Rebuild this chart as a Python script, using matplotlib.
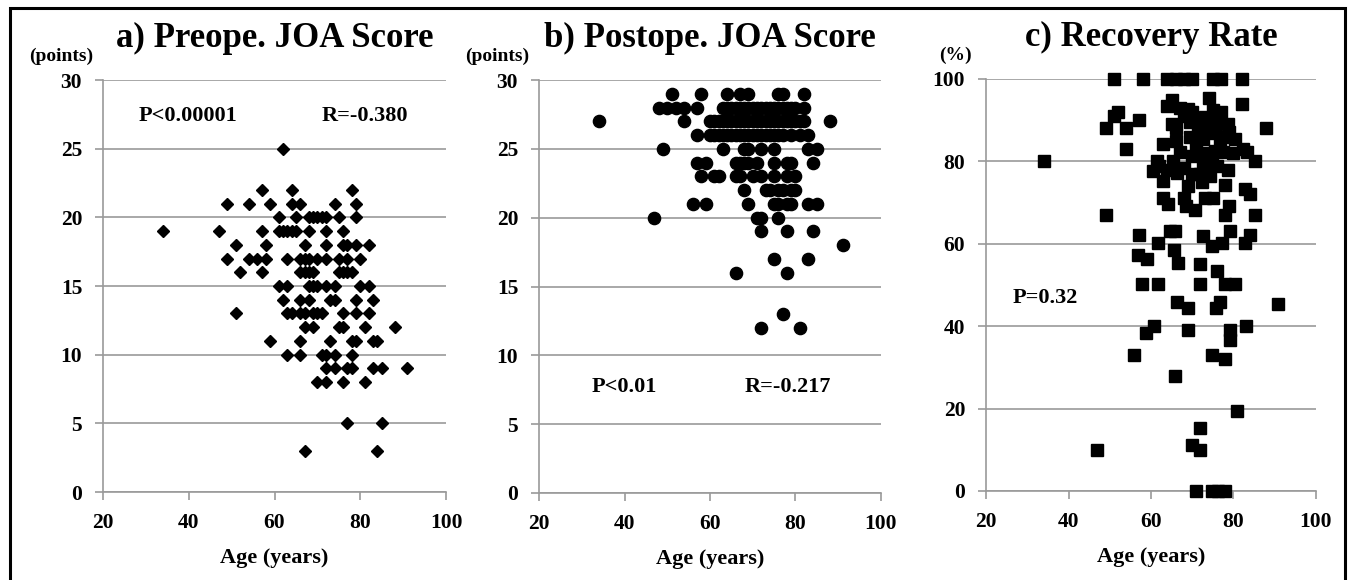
import matplotlib
matplotlib.use("Agg")
import matplotlib.pyplot as plt
from matplotlib.patches import Rectangle

plt.rcParams["font.family"] = ["Liberation Serif", "DejaVu Serif"]
plt.rcParams["font.weight"] = "bold"

# -------------------------------
# DATA
# -------------------------------
# a) preoperative JOA score vs age
a_age = [34, 62,
         57, 64, 78,
         49, 54, 59, 64, 66, 74, 79,
         61, 65, 68, 69, 70, 71, 72, 75, 79,
         47, 57, 61, 62, 63, 64, 65, 68, 72, 76,
         51, 58, 67, 72, 76, 77, 79, 82,
         49, 54, 56, 58, 63, 66, 67, 68, 70, 72, 75, 77, 80,
         52, 57, 66, 67, 68, 69, 75, 76, 77, 78,
         61, 63, 68, 69, 70, 72, 74, 80, 82,
         62, 66, 68, 73, 74, 79, 83,
         51, 63, 64, 66, 67, 69, 70, 71, 76, 79, 82,
         67, 69, 75, 76, 81, 88,
         59, 66, 73, 78, 79, 83, 84,
         63, 66, 71, 72, 74, 78,
         72, 74, 77, 78, 83, 85, 91,
         70, 72, 76, 81,
         77, 85,
         67, 84]
a_score = [19, 25,
           22, 22, 22,
           21, 21, 21, 21, 21, 21, 21,
           20, 20, 20, 20, 20, 20, 20, 20, 20,
           19, 19, 19, 19, 19, 19, 19, 19, 19, 19,
           18, 18, 18, 18, 18, 18, 18, 18,
           17, 17, 17, 17, 17, 17, 17, 17, 17, 17, 17, 17, 17,
           16, 16, 16, 16, 16, 16, 16, 16, 16, 16,
           15, 15, 15, 15, 15, 15, 15, 15, 15,
           14, 14, 14, 14, 14, 14, 14,
           13, 13, 13, 13, 13, 13, 13, 13, 13, 13, 13,
           12, 12, 12, 12, 12, 12,
           11, 11, 11, 11, 11, 11, 11,
           10, 10, 10, 10, 10, 10,
           9, 9, 9, 9, 9, 9, 9,
           8, 8, 8, 8,
           5, 5,
           3, 3]

# b) postoperative JOA score vs age
b_age = [34,
         51, 58, 64, 67, 69, 76, 77, 82,
         48, 50, 52, 54, 57, 63, 64, 65, 66, 67, 68, 69, 70, 71, 72, 73, 74,
         75, 76, 77, 78, 79, 80, 82,
         54, 60, 61, 62, 63, 64, 65, 66, 67, 68, 69, 70, 71, 72, 73, 74, 75,
         76, 77, 78, 79, 80, 81, 82, 88,
         57, 60, 61, 62, 63, 64, 65, 66, 67, 68, 69, 70, 71, 72, 73, 74, 75,
         76, 77, 79, 81, 83,
         49, 63, 68, 69, 72, 75, 83, 85,
         57, 59, 66, 67, 68, 69, 71, 75, 78, 79, 84,
         58, 61, 62, 66, 67, 70, 72, 75, 78, 80,
         68, 73, 74, 76, 77, 79, 80,
         56, 59, 69, 75, 76, 78, 79, 83, 85,
         47, 71, 72, 76,
         72, 78, 84,
         91,
         75, 83,
         66, 78,
         77,
         72, 81]
b_score = [27,
           29, 29, 29, 29, 29, 29, 29, 29,
           28, 28, 28, 28, 28, 28, 28, 28, 28, 28, 28, 28, 28, 28, 28, 28, 28,
           28, 28, 28, 28, 28, 28, 28,
           27, 27, 27, 27, 27, 27, 27, 27, 27, 27, 27, 27, 27, 27, 27, 27, 27,
           27, 27, 27, 27, 27, 27, 27, 27,
           26, 26, 26, 26, 26, 26, 26, 26, 26, 26, 26, 26, 26, 26, 26, 26, 26,
           26, 26, 26, 26, 26,
           25, 25, 25, 25, 25, 25, 25, 25,
           24, 24, 24, 24, 24, 24, 24, 24, 24, 24, 24,
           23, 23, 23, 23, 23, 23, 23, 23, 23, 23,
           22, 22, 22, 22, 22, 22, 22,
           21, 21, 21, 21, 21, 21, 21, 21, 21,
           20, 20, 20, 20,
           19, 19, 19,
           18,
           17, 17,
           16, 16,
           13,
           12, 12]

# c) recovery rate vs age
c_age = [51, 58, 64, 66, 68, 70, 75, 77, 82,
         65, 64, 69, 70, 74, 75, 77, 82,
         52, 51, 57, 49, 54, 88, 54, 34,
         65, 66, 69.5, 71.5, 73, 74.3, 75.5, 78.7, 79, 80.4, 69.5, 72.7,
         76.7, 63, 82.4, 83.2, 67, 69.9, 75.5, 77.5, 65.4, 61.4, 85.2, 72.7,
         74.7, 68, 60.6, 78.7, 66.2, 71.9, 74.3, 63, 72.3, 77.9, 82.8, 84,
         63, 68, 73, 75, 64.2, 68.6, 70.7, 79, 77.9, 85.2, 49.1,
         67, 68, 71, 72, 76, 78, 71, 73, 66, 80, 70, 76, 64, 69, 74, 62,
         57.2, 64.6, 65.8, 72.7, 79.2, 84, 61.8, 74.7, 77.1, 82.8, 56.9, 59,
         65.6, 66.6, 71.9, 75.9, 57.7, 61.8, 71.9, 77.9, 80.4, 66.4, 68.9,
         76.7, 75.8, 90.9, 60.8, 58.8, 68.9, 83, 79.2, 79.2, 56, 74.7, 77.9,
         65.7,
         80.8, 72, 46.8, 69.9, 72, 70.9, 74.7, 76.3, 77.9]
c_rate = [100, 100, 100, 100, 100, 100, 100, 100, 100,
          95, 93.5, 92.8, 92, 95.3, 92.4, 92, 94,
          92, 91, 90, 88, 88, 88, 83, 80,
          89, 88, 89.6, 88.3, 90.8, 89.1, 87.5, 89.1, 87.1, 85.5, 85.9, 85.5,
          85.1, 84.2, 83, 82.2, 82.2, 81.4, 82.6, 82.2, 80.2, 80.2, 80, 79.8,
          79.3, 78.5, 77.7, 77.9, 77.3, 76.9, 76.5, 75.3, 74.9, 74.3, 73.2, 72,
          71.2, 71.2, 71.2, 71.2, 69.7, 69.1, 68.3, 69.1, 67.1, 67.1, 67.1,
          93, 91, 90, 87, 90, 86, 83, 82, 85, 82, 77, 79, 78, 74, 87, 79,
          62.2, 63, 63, 61.8, 63, 62.2, 60.3, 59.5, 60.3, 60.3, 57.3, 56.3,
          58.4, 55.3, 55.1, 53.5, 50.2, 50.2, 50.2, 50.2, 50.2, 45.9, 44.3,
          45.9, 44.3, 45.4, 40, 38.4, 39, 40, 39, 36.6, 32.9, 32.9, 32.1,
          28,
          19.3, 15.3, 10, 11.1, 10, 0, 0, 0, 0]

# -------------------------------
# DRAW
# -------------------------------
GRID = "#9a9a9a"

fig = plt.figure(figsize=(13.51, 5.8), dpi=100)

# outer frame of the figure
fig.patches.append(Rectangle((10 / 1351, -0.05), 1335 / 1351, 1.05 - 8 / 580,
                             transform=fig.transFigure, fill=False,
                             edgecolor="black", linewidth=2.2))

panels = [
    # left px, right px, top px, bottom px
    dict(box=(103, 446, 80, 492), x=a_age, y=a_score, marker="D", ms=6.6,
         title="a) Preope. JOA Score", unit="(points)", unit_dx=-42,
         ylim=(0, 30), yticks=range(0, 31, 5)),
    dict(box=(539, 881, 80, 493), x=b_age, y=b_score, marker="o", ms=8.8,
         title="b) Postope. JOA Score", unit="(points)", unit_dx=-42,
         ylim=(0, 30), yticks=range(0, 31, 5)),
    dict(box=(986, 1316, 79, 491), x=c_age, y=c_rate, marker="s", ms=9.3,
         title="c) Recovery Rate", unit="(%)", unit_dx=-31,
         ylim=(0, 100), yticks=range(0, 101, 20)),
]

axes = []
for p in panels:
    l, r, t, b = p["box"]
    ax = fig.add_axes([l / 1351, (580 - b) / 580, (r - l) / 1351, (b - t) / 580])
    ax.plot(p["x"], p["y"], linestyle="none", marker=p["marker"],
            markersize=p["ms"], color="black", zorder=3, clip_on=False)
    ax.set_xlim(20, 100)
    ax.set_ylim(*p["ylim"])
    ax.set_xticks(range(20, 101, 20))
    ax.set_yticks(list(p["yticks"]))
    ax.yaxis.grid(True, color=GRID, linewidth=1.2)
    ax.set_axisbelow(True)
    for side in ("top", "right"):
        ax.spines[side].set_visible(False)
    for side in ("left", "bottom"):
        ax.spines[side].set_color(GRID)
        ax.spines[side].set_linewidth(1.2)
    ax.tick_params(axis="both", direction="out", length=6, width=1.2,
                   color=GRID, labelsize=15.5, pad=9)
    for lab in ax.get_xticklabels() + ax.get_yticklabels():
        lab.set_fontweight("bold")
    ax.set_xlabel("Age (years)", fontsize=16, fontweight="bold", labelpad=11)
    ax.text(0.5, 1.08, p["title"], transform=ax.transAxes, ha="center",
            va="baseline", fontsize=25, fontweight="bold")
    ax.annotate(p["unit"], xy=(0, 1), xycoords="axes fraction",
                xytext=(p["unit_dx"] * 0.72, 14), textcoords="offset points",
                ha="center", va="baseline", fontsize=14, fontweight="bold")
    axes.append(ax)

# statistics
axes[0].text(28.2, 27.4, "P<0.00001", fontsize=16, fontweight="bold", va="center")
axes[0].text(71, 27.4, "R=-0.380", fontsize=16, fontweight="bold", va="center")
axes[1].text(32.3, 7.7, "P<0.01", fontsize=16, fontweight="bold", va="center")
axes[1].text(68.2, 7.7, "R=-0.217", fontsize=16, fontweight="bold", va="center")
axes[2].text(26.5, 46.8, "P=0.32", fontsize=16, fontweight="bold", va="center")

fig.savefig("out.png", dpi=100)
